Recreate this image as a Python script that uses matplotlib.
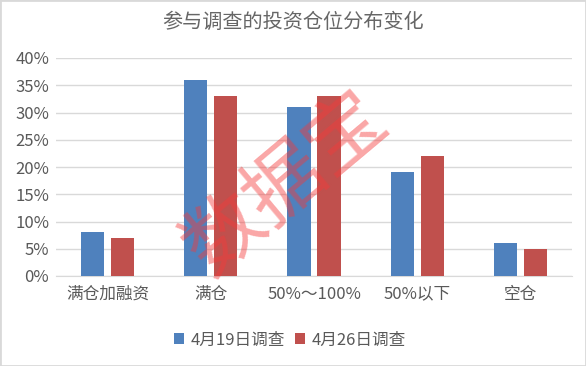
import matplotlib
matplotlib.use("Agg")
import matplotlib.pyplot as plt
import numpy as np
from matplotlib.patches import Rectangle

plt.rcParams['font.family'] = ['Noto Sans CJK SC', 'DejaVu Sans']

categories = ['满仓加融资', '满仓', '50%～100%', '50%以下', '空仓']
series_names = ['4月19日调查', '4月26日调查']
apr19 = [8, 36, 31, 19, 6]
apr26 = [7, 33, 33, 22, 5]
yticks = [0, 5, 10, 15, 20, 25, 30, 35, 40]

W, H = 586, 366
fig = plt.figure(figsize=(W/100, H/100), dpi=100)
ax = fig.add_axes([56/W, 1-276/H, (572-56)/W, (276-58)/H])

x = np.arange(len(categories))
bw = 0.225
ax.bar(x - 0.145, apr19, bw, color='#4F81BD', label=series_names[0], zorder=3)
ax.bar(x + 0.145, apr26, bw, color='#C0504D', label=series_names[1], zorder=3)

ax.set_xlim(-0.5, len(categories) - 0.5)
ax.set_ylim(0, 40)
ax.set_yticks(yticks)
ax.set_yticklabels([f'{v}%' for v in yticks])
ax.set_xticks(x)
ax.set_xticklabels(categories)
ax.grid(axis='y', color='#D9D9D9', linewidth=1, zorder=0)
for s in ['top', 'right', 'left']:
    ax.spines[s].set_visible(False)
ax.spines['bottom'].set_color('#D9D9D9')
ax.tick_params(axis='both', length=0, labelsize=12, colors='#595959', pad=5)
ax.tick_params(axis='x', pad=7)
for lab in ax.get_xticklabels() + ax.get_yticklabels():
    lab.set_fontweight('light')

fig.text(0.5, 1-22/H, '参与调查的投资仓位分布变化', ha='center', va='center',
         fontsize=14.5, color='#666666', fontweight='light')

fig.legend(loc='center', bbox_to_anchor=(290/W, 1-340/H), ncol=2, frameon=False,
           prop={'size': 12, 'weight': 'light'}, labelcolor='#595959',
           handlelength=0.6, handleheight=0.6,
           handletextpad=0.4, columnspacing=0.6)

fig.text(286/W, 1-184/H, '数据宝', ha='center', va='center', fontsize=57,
         color='#F43A3A', alpha=0.45, rotation=40, zorder=10, fontweight='light')

fig.patches.append(Rectangle((0, 0), 1, 1, transform=fig.transFigure, fill=False,
                             edgecolor='#D9D9D9', linewidth=2))

fig.savefig('out.png', dpi=100)
